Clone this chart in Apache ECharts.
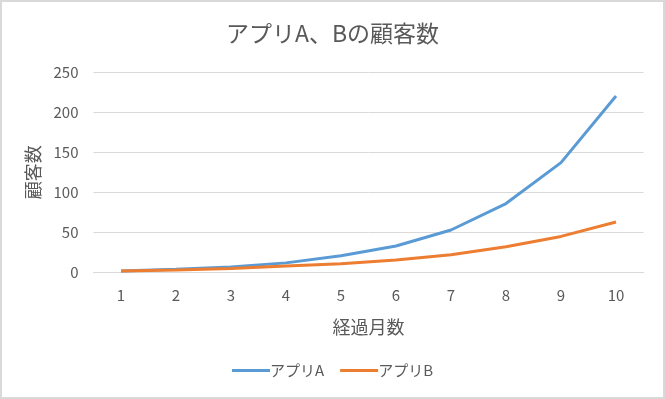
<!DOCTYPE html>
<html>
<head>
<meta charset="utf-8">
<script src="https://cdn.jsdelivr.net/npm/echarts@6/dist/echarts.min.js"></script>
<style>
  html, body { margin: 0; padding: 0; background: #fff; }
  #main { width: 665px; height: 399px; box-sizing: border-box; border: 2px solid #d9d9d9; }
</style>
</head>
<body>
<div id="main"></div>
<script>
// 経過月数
const months = ['1', '2', '3', '4', '5', '6', '7', '8', '9', '10'];
// 顧客数
const appA = [2, 4, 7, 12, 21, 33, 53, 86, 137, 220];
const appB = [2, 3, 5, 8, 11, 15.5, 22, 32, 45, 63];
const yTicks = [0, 50, 100, 150, 200, 250];

const font = '"Noto Sans CJK JP", "Noto Sans", sans-serif';
const chart = echarts.init(document.getElementById('main'), null, { renderer: 'canvas' });

chart.setOption({
  animation: false,
  textStyle: { fontFamily: font },
  title: {
    text: 'アプリA、Bの顧客数',
    left: 'center',
    top: 15,
    textStyle: { fontFamily: font, fontSize: 23, fontWeight: 'normal', color: '#595959' }
  },
  legend: {
    bottom: 14,
    left: 'center',
    itemWidth: 38,
    itemHeight: 3,
    itemGap: 16,
    icon: 'rect',
    textStyle: { fontFamily: font, fontSize: 15, color: '#595959', padding: [0, 0, 0, -5] },
    data: ['アプリA', 'アプリB']
  },
  grid: { left: 91.5, right: 19.5, top: 70, bottom: 124.5 },
  xAxis: {
    type: 'category',
    data: months,
    boundaryGap: true,
    name: '経過月数',
    nameLocation: 'middle',
    nameGap: 46,
    nameTextStyle: { fontFamily: font, fontSize: 18, color: '#595959' },
    axisLine: { lineStyle: { color: '#d9d9d9', width: 1 } },
    axisTick: { show: false },
    axisLabel: { fontFamily: font, fontSize: 15, color: '#595959', margin: 15 }
  },
  yAxis: {
    type: 'value',
    min: yTicks[0],
    max: yTicks[yTicks.length - 1],
    interval: 50,
    name: '顧客数',
    nameLocation: 'middle',
    nameRotate: 90,
    nameGap: 50,
    nameTextStyle: { fontFamily: font, fontSize: 18, color: '#595959' },
    axisLine: { show: false },
    axisTick: { show: false },
    axisLabel: { fontFamily: font, fontSize: 15, color: '#595959', margin: 15 },
    splitLine: { lineStyle: { color: '#d9d9d9', width: 1 } }
  },
  series: [
    {
      name: 'アプリA',
      type: 'line',
      data: appA,
      symbol: 'none',
      lineStyle: { color: '#5b9bd5', width: 3 },
      itemStyle: { color: '#5b9bd5' }
    },
    {
      name: 'アプリB',
      type: 'line',
      data: appB,
      symbol: 'none',
      lineStyle: { color: '#ed7d31', width: 3 },
      itemStyle: { color: '#ed7d31' }
    }
  ]
});
</script>
</body>
</html>
